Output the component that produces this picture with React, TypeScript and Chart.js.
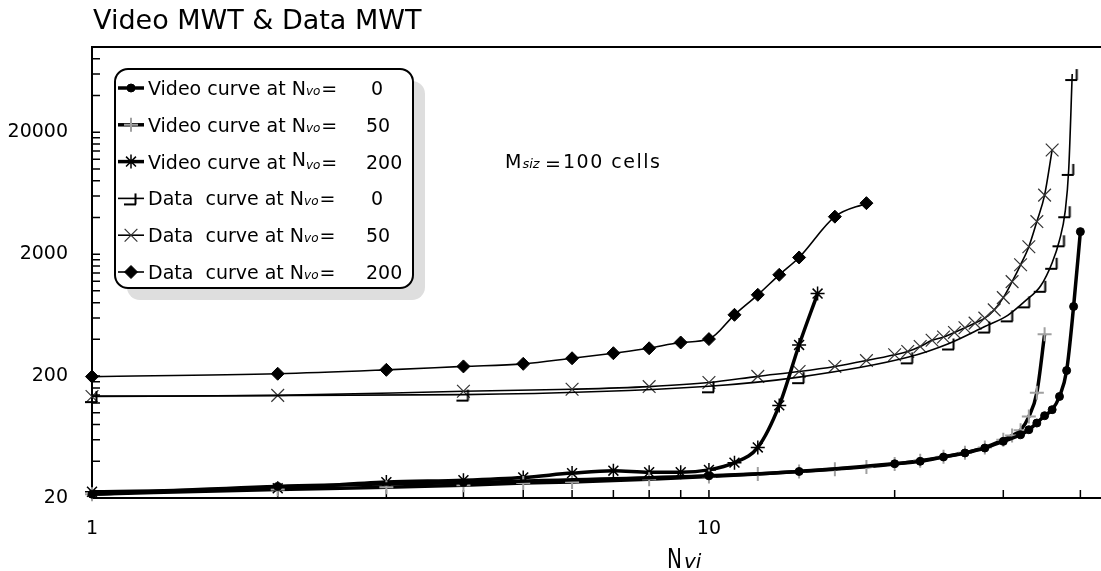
import React, { useEffect, useRef } from 'react';
import { Chart, registerables } from 'chart.js';

Chart.register(...registerables);

// ---- axis ticks ----
const xLabelTicks = [1, 10];
const xMinorTicks = [2, 3, 4, 5, 6, 7, 8, 9, 10, 20, 30, 40];
const yLabelTicks = [20, 200, 2000, 20000];
const yMinorTicks = [
  40, 60, 80, 100, 120, 140, 160, 180, 200,
  400, 600, 800, 1000, 1200, 1400, 1600, 1800, 2000,
  4000, 6000, 8000, 10000, 12000, 14000, 16000, 18000, 20000,
  40000, 60000, 80000,
];
const xMin = 1;
const xMax = 43.2;
const yMin = 20;
const yMax = 100000;

// ---- series ----
const video0X = [1, 2, 4, 10, 14, 20, 22, 24, 26, 28, 30, 32, 33, 34, 35, 36, 37, 38, 39, 40];
const video0Y = [21.5, 24.9, 26.8, 30.4, 33, 38.2, 40, 43.4, 46.8, 51.4, 58.3, 66, 72.6, 82.4, 94.6, 106, 136, 222, 744, 3060];

const video50X = [1, 2, 3, 4, 5, 6, 8, 10, 12, 14, 16, 18, 20, 22, 24, 26, 28, 30, 31, 32, 33, 34, 35];
const video50Y = [21.5, 23.5, 24.5, 25.5, 26.5, 27, 28.5, 30, 31.5, 33, 34.5, 36, 38, 40.5, 43.5, 47, 52, 60, 65, 72, 93, 146, 440];

const video200X = [1, 2, 3, 4, 5, 6, 7, 8, 9, 10, 11, 12, 13, 14, 15];
const video200Y = [22.5, 24, 27, 28, 29.5, 32, 33.5, 32.5, 32.5, 34, 39, 52, 115, 360, 950];

const data0X = [1, 4, 10, 14, 21, 24.5, 28, 30.5, 32.5, 34.5, 36, 37, 37.8, 38.3, 38.8];
const data0Y = [137, 141, 165, 196, 285, 370, 510, 630, 820, 1100, 1700, 2600, 4500, 10000, 60000];

const data50X = [1, 2, 4, 6, 8, 10, 12, 14, 16, 18, 20, 21, 22, 23, 24, 25, 26, 27, 28, 29, 30, 31, 32, 33, 34, 35, 36];
const data50Y = [136, 139, 150, 156, 164, 177, 199, 218, 240, 268, 299, 318, 350, 393, 418, 456, 498, 544, 598, 698, 880, 1190, 1636, 2300, 3700, 6100, 14300];

const data200X = [1, 2, 3, 4, 5, 6, 7, 8, 9, 10, 11, 12, 13, 14, 16, 18];
const data200Y = [198, 209, 225, 240, 252, 280, 308, 338, 377, 402, 636, 928, 1354, 1878, 4060, 5240];

const legendPrefixes = ['Video curve at ', 'Video curve at ', 'Video curve at ', 'Data  curve at ', 'Data  curve at ', 'Data  curve at '];
const legendValues = ['0', '50', '200', '0', '50', '200'];

const chartTitle = 'Video MWT & Data MWT';
const noteMain = 'M';
const noteSub = 'siz';
const noteRest = '100 cells';

const FONT = "'DejaVu Sans', 'Liberation Sans', sans-serif";

const pts = (xs: number[], ys: number[]) => xs.map((x, i) => ({ x, y: ys[i] }));

function makeLMarker(): HTMLCanvasElement {
  const c = document.createElement('canvas');
  c.width = 16;
  c.height = 16;
  const g = c.getContext('2d')!;
  g.strokeStyle = '#000';
  g.lineWidth = 2;
  g.beginPath();
  g.moveTo(1, 14);
  g.lineTo(13, 14);
  g.moveTo(12.5, 14);
  g.lineTo(12.5, 3);
  g.stroke();
  return c;
}

function roundRectPath(ctx: CanvasRenderingContext2D, x: number, y: number, w: number, h: number, r: number) {
  ctx.beginPath();
  ctx.moveTo(x + r, y);
  ctx.lineTo(x + w - r, y);
  ctx.arcTo(x + w, y, x + w, y + r, r);
  ctx.lineTo(x + w, y + h - r);
  ctx.arcTo(x + w, y + h, x + w - r, y + h, r);
  ctx.lineTo(x + r, y + h);
  ctx.arcTo(x, y + h, x, y + h - r, r);
  ctx.lineTo(x, y + r);
  ctx.arcTo(x, y, x + r, y, r);
  ctx.closePath();
}

function drawMarker(ctx: CanvasRenderingContext2D, ds: any, x: number, y: number) {
  const style = ds.pointStyle;
  const r = ds.pointRadius;
  ctx.save();
  ctx.strokeStyle = ds.pointBorderColor;
  ctx.fillStyle = ds.pointBackgroundColor;
  ctx.lineWidth = ds.pointBorderWidth;
  if (typeof style !== 'string') {
    ctx.drawImage(style, x - style.width / 2, y - style.height / 2);
  } else if (style === 'circle') {
    ctx.beginPath();
    ctx.arc(x, y, r, 0, Math.PI * 2);
    ctx.fill();
    ctx.stroke();
  } else if (style === 'rectRot') {
    ctx.beginPath();
    ctx.moveTo(x, y - r);
    ctx.lineTo(x + r, y);
    ctx.lineTo(x, y + r);
    ctx.lineTo(x - r, y);
    ctx.closePath();
    ctx.fill();
    ctx.stroke();
  } else {
    const d = r * Math.SQRT1_2;
    ctx.beginPath();
    if (style === 'cross' || style === 'star') {
      ctx.moveTo(x - r, y); ctx.lineTo(x + r, y);
      ctx.moveTo(x, y - r); ctx.lineTo(x, y + r);
    }
    if (style === 'crossRot' || style === 'star') {
      ctx.moveTo(x - d, y - d); ctx.lineTo(x + d, y + d);
      ctx.moveTo(x - d, y + d); ctx.lineTo(x + d, y - d);
    }
    ctx.stroke();
  }
  ctx.restore();
}

const decorPlugin = {
  id: 'decor',
  beforeDatasetsDraw(chart: any) {
    const { ctx, chartArea: a, scales } = chart;
    const xs = scales.x;
    const ys = scales.y;
    ctx.save();
    ctx.strokeStyle = '#000';
    ctx.lineWidth = 1.5;
    ctx.beginPath();
    for (const v of xMinorTicks) {
      const p = xs.getPixelForValue(v);
      ctx.moveTo(p, a.bottom);
      ctx.lineTo(p, a.bottom - 8);
    }
    for (const v of yMinorTicks) {
      const p = ys.getPixelForValue(v);
      ctx.moveTo(a.left, p);
      ctx.lineTo(a.left + 8, p);
    }
    ctx.stroke();
    ctx.lineWidth = 2;
    ctx.beginPath();
    ctx.moveTo(a.left - 1, a.top);
    ctx.lineTo(a.right, a.top);
    ctx.stroke();
    ctx.restore();
  },
  afterDraw(chart: any) {
    const { ctx } = chart;
    ctx.save();
    ctx.fillStyle = '#000';
    ctx.textAlign = 'left';
    ctx.textBaseline = 'alphabetic';

    // title
    ctx.font = `27px ${FONT}`;
    ctx.fillText(chartTitle, 93, 29);

    // annotation
    ctx.font = `19px ${FONT}`;
    ctx.fillText(noteMain, 505, 168);
    const mw = ctx.measureText(noteMain).width;
    ctx.font = `italic 13px ${FONT}`;
    ctx.fillText(noteSub, 505 + mw + 1, 168);
    ctx.font = `19px ${FONT}`;
    ctx.fillText('=', 545, 170);
    (ctx as any).letterSpacing = '1.5px';
    ctx.fillText(noteRest, 563, 168);
    (ctx as any).letterSpacing = '0px';

    // x axis title
    ctx.save();
    ctx.translate(667, 568);
    ctx.scale(1, 1.3);
    ctx.font = `20px ${FONT}`;
    ctx.fillText('N', 0, 0);
    ctx.restore();
    ctx.font = `italic 20px ${FONT}`;
    ctx.fillText('vi', 684, 568);

    // legend
    const bx = 115, by = 69, bw = 298, bh = 219;
    ctx.fillStyle = '#dedede';
    roundRectPath(ctx, bx + 12, by + 12, bw, bh, 13);
    ctx.fill();
    ctx.fillStyle = '#fff';
    ctx.strokeStyle = '#000';
    ctx.lineWidth = 2;
    roundRectPath(ctx, bx, by, bw, bh, 13);
    ctx.fill();
    ctx.stroke();

    const dss = chart.data.datasets;
    for (let i = 0; i < dss.length; i++) {
      const ds = dss[i];
      const base = 95 + i * 36.8;
      const cy = base - 7;
      ctx.strokeStyle = '#000';
      ctx.lineWidth = ds.borderWidth;
      ctx.beginPath();
      ctx.moveTo(118, cy);
      ctx.lineTo(144, cy);
      ctx.stroke();
      drawMarker(ctx, ds, 131, cy);

      ctx.fillStyle = '#000';
      ctx.font = `19px ${FONT}`;
      let x = 148;
      ctx.fillText(legendPrefixes[i], x, base);
      x += ctx.measureText(legendPrefixes[i]).width;
      const nUp = i === 2 ? -3 : 0;
      ctx.fillText('N', x, base + nUp);
      x += ctx.measureText('N').width;
      ctx.font = `italic 12px ${FONT}`;
      ctx.fillText('vo', x, base);
      x += ctx.measureText('vo').width + 1;
      ctx.font = `19px ${FONT}`;
      ctx.fillText('=', x, base);
      ctx.fillText(legendValues[i], legendValues[i] === '0' ? 371 : 366, base);
    }
    ctx.restore();
  },
};

export default function App() {
  const ref = useRef<HTMLCanvasElement | null>(null);

  useEffect(() => {
    const canvas = ref.current;
    if (!canvas) return;
    const lMarker = makeLMarker();
    const thick = 3.5;
    const thin = 1.6;
    const common = { fill: false, cubicInterpolationMode: 'monotone', clip: false, borderColor: '#000' };

    const chart = new Chart(canvas, {
      type: 'line',
      data: {
        datasets: [
          {
            ...common,
            label: 'Video curve at Nvo= 0',
            data: pts(video0X, video0Y),
            borderWidth: thick,
            pointStyle: 'circle',
            pointRadius: 4,
            pointBackgroundColor: '#000',
            pointBorderColor: '#000',
            pointBorderWidth: 1,
          },
          {
            ...common,
            label: 'Video curve at Nvo= 50',
            data: pts(video50X, video50Y),
            borderWidth: thick,
            pointStyle: 'cross',
            pointRadius: 7,
            pointBackgroundColor: '#999',
            pointBorderColor: '#a0a0a0',
            pointBorderWidth: 2,
          },
          {
            ...common,
            label: 'Video curve at Nvo= 200',
            data: pts(video200X, video200Y),
            borderWidth: thick,
            pointStyle: 'star',
            pointRadius: 7,
            pointBackgroundColor: '#000',
            pointBorderColor: '#000',
            pointBorderWidth: 1.5,
          },
          {
            ...common,
            label: 'Data curve at Nvo= 0',
            data: pts(data0X, data0Y),
            borderWidth: thin,
            pointStyle: lMarker,
            pointRadius: 7,
            pointBackgroundColor: '#000',
            pointBorderColor: '#000',
            pointBorderWidth: 1,
          },
          {
            ...common,
            label: 'Data curve at Nvo= 50',
            data: pts(data50X, data50Y),
            borderWidth: thin,
            pointStyle: 'crossRot',
            pointRadius: 9,
            pointBackgroundColor: '#333',
            pointBorderColor: '#333',
            pointBorderWidth: 1.2,
          },
          {
            ...common,
            label: 'Data curve at Nvo= 200',
            data: pts(data200X, data200Y),
            borderWidth: thin,
            pointStyle: 'rectRot',
            pointRadius: 6.5,
            pointBackgroundColor: '#000',
            pointBorderColor: '#000',
            pointBorderWidth: 1,
          },
        ],
      } as any,
      options: {
        responsive: false,
        animation: false,
        events: [],
        layout: { autoPadding: false, padding: { top: 47, left: 0, right: 0, bottom: 0 } },
        plugins: {
          legend: { display: false },
          title: { display: false },
          tooltip: { enabled: false },
        },
        scales: {
          x: {
            type: 'logarithmic',
            min: xMin,
            max: xMax,
            grid: { display: false, drawTicks: false, tickLength: 0 },
            border: { display: true, color: '#000', width: 2 },
            ticks: {
              color: '#000',
              font: { family: FONT, size: 19 },
              padding: 20,
              autoSkip: false,
              maxRotation: 0,
              callback: (v: any) => String(v),
            },
            afterBuildTicks: (s: any) => {
              s.ticks = xLabelTicks.map((v) => ({ value: v }));
            },
            afterFit: (s: any) => {
              s.height = 73;
              s.paddingLeft = 0;
              s.paddingRight = 0;
            },
          },
          y: {
            type: 'logarithmic',
            min: yMin,
            max: yMax,
            grid: { display: false, drawTicks: false, tickLength: 0 },
            border: { display: true, color: '#000', width: 2 },
            ticks: {
              color: '#000',
              font: { family: FONT, size: 19 },
              padding: 24,
              autoSkip: false,
              callback: (v: any) => String(v),
            },
            afterBuildTicks: (s: any) => {
              s.ticks = yLabelTicks.map((v) => ({ value: v }));
            },
            afterFit: (s: any) => {
              s.width = 92;
              s.paddingTop = 0;
              s.paddingBottom = 0;
            },
          },
        },
      } as any,
      plugins: [decorPlugin],
    });
    return () => chart.destroy();
  }, []);

  return (
    <div style={{ position: 'fixed', left: 0, top: 0, width: 1101, height: 571, background: '#fff' }}>
      <canvas ref={ref} width={1101} height={571} style={{ display: 'block' }} />
    </div>
  );
}
